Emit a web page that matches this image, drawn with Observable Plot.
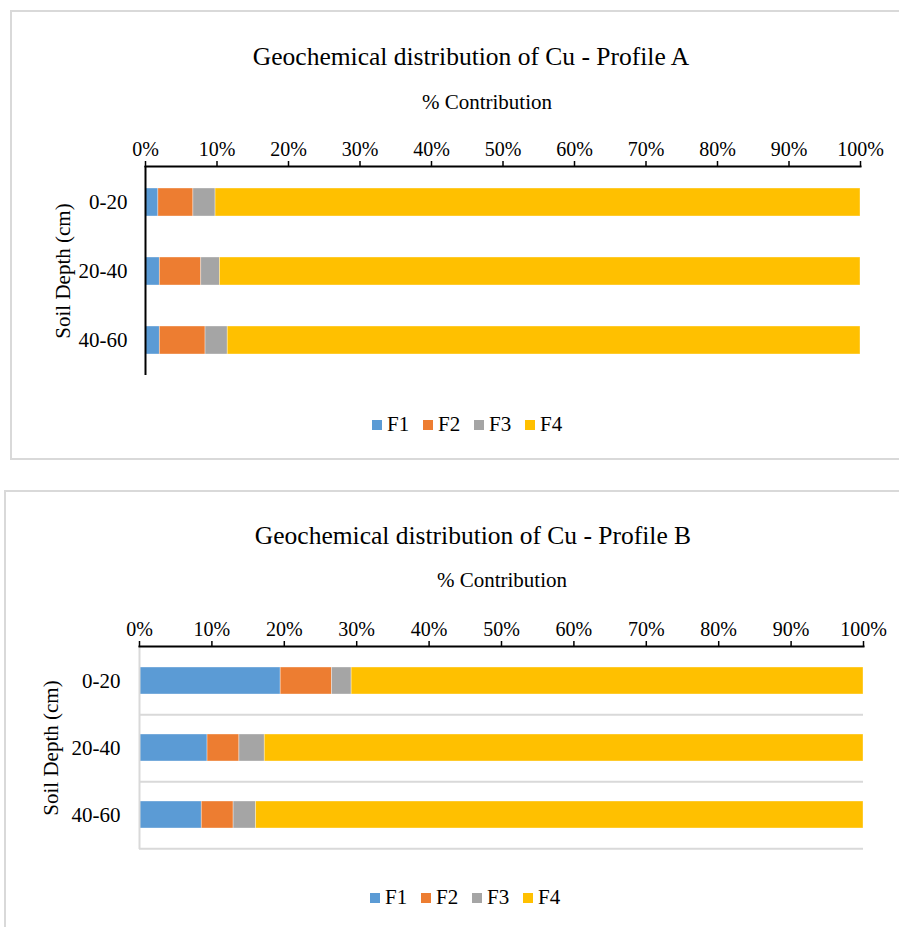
<!DOCTYPE html>
<html><head><meta charset="utf-8">
<script src="https://cdn.jsdelivr.net/npm/d3@7"></script>
<script src="https://cdn.jsdelivr.net/npm/@observablehq/plot@0.6"></script>
<style>
body{margin:0;background:#fff;width:899px;height:927px;overflow:hidden;position:relative;font-family:"Liberation Serif","Times New Roman",serif;color:#000}
svg, svg text{font-family:"Liberation Serif","Times New Roman",serif !important}
.box{position:absolute;border:2px solid #d9d9d9;box-sizing:border-box}
.t{position:absolute;white-space:nowrap;transform:translate(-50%,-50%);line-height:1.15}
.plotwrap{position:absolute;left:0}
.legend{position:absolute;display:flex;align-items:center;font-size:21px;line-height:1}
.legend .item{display:flex;align-items:center;width:51px}
.legend .sw{width:10px;height:10px;margin-right:5px}
</style></head><body>
<script>
// ---- data ----
const depths = ["0-20", "20-40", "40-60"];
const fractions = ["F1", "F2", "F3", "F4"];
const colors = ["#5B9BD5", "#ED7D31", "#A5A5A5", "#FFC000"];
const xTicks = [0, 10, 20, 30, 40, 50, 60, 70, 80, 90, 100];

const profileA_F1 = [1.8, 2.0, 2.0];
const profileA_F2 = [4.9, 5.8, 6.4];
const profileA_F3 = [3.1, 2.6, 3.1];
const profileA_F4 = [90.2, 89.6, 88.5];

const profileB_F1 = [19.5, 9.4, 8.6];
const profileB_F2 = [7.1, 4.4, 4.4];
const profileB_F3 = [2.7, 3.5, 3.1];
const profileB_F4 = [70.7, 82.7, 83.9];

const titleA = "Geochemical distribution of Cu - Profile A";
const titleB = "Geochemical distribution of Cu - Profile B";
const xLabel = "% Contribution";
const yLabel = "Soil Depth (cm)";

function addText(txt, x, y, size) {
  const d = document.createElement("div");
  d.className = "t";
  d.textContent = txt;
  d.style.left = x + "px";
  d.style.top = y + "px";
  d.style.fontSize = size + "px";
  document.body.appendChild(d);
}
function addBox(l, t, w, h) {
  const d = document.createElement("div");
  d.className = "box";
  Object.assign(d.style, {left: l + "px", top: t + "px", width: w + "px", height: h + "px"});
  document.body.appendChild(d);
}
function addLegend(l, t) {
  const lg = document.createElement("div");
  lg.className = "legend";
  lg.style.left = l + "px";
  lg.style.top = t + "px";
  fractions.forEach((f, i) => {
    const it = document.createElement("div");
    it.className = "item";
    const sw = document.createElement("span");
    sw.className = "sw";
    sw.style.background = colors[i];
    const tx = document.createElement("span");
    tx.textContent = f;
    it.appendChild(sw); it.appendChild(tx);
    lg.appendChild(it);
  });
  document.body.appendChild(lg);
}

function drawChart(cfg) {
  const rows = [];
  depths.forEach((d, i) => cfg.series.forEach((vals, j) =>
    rows.push({depth: d, fraction: fractions[j], value: vals[i]})));
  const step = (cfg.h - cfg.mt - cfg.mb) / depths.length;
  const plot = Plot.plot({
    width: 899, height: cfg.h,
    marginTop: cfg.mt, marginBottom: cfg.mb, marginLeft: cfg.ml, marginRight: cfg.mr,
    style: {fontFamily: "Liberation Serif, Times New Roman, serif", fontSize: "20px", color: "#000", background: "transparent", overflow: "visible"},
    x: {domain: [0, 100], axis: null},
    y: {domain: depths, paddingInner: 0.6, paddingOuter: 0.3, axis: null},
    color: {domain: fractions, range: colors},
    marks: [
      cfg.grid ? Plot.ruleY(depths, {y: d => d, dy: step / 2, stroke: "#d9d9d9", strokeWidth: 2}) : null,
      Plot.barX(rows, Plot.stackX({x: "value", y: "depth", fill: "fraction", stroke: "white", strokeOpacity: 0.5, strokeWidth: 0.7})),
      Plot.ruleX([0], {stroke: cfg.yLine, strokeWidth: 2}),
      Plot.axisX(xTicks, {anchor: "top", tickSize: 6, tickPadding: 5, tickFormat: d => d + "%", label: null, fontSize: 20, strokeWidth: 1.5}),
      Plot.frame({anchor: "top", stroke: "#000", strokeWidth: 2}),
      Plot.axisY({anchor: "left", tickSize: 0, tickPadding: cfg.tp, label: yLabel, labelAnchor: "center", labelOffset: cfg.lo, fontSize: 21})
    ]
  });
  const w = document.createElement("div");
  w.className = "plotwrap";
  w.style.top = cfg.top + "px";
  w.appendChild(plot);
  document.body.appendChild(w);
}

// ---- chart A ----
addBox(10, 10, 900, 450);
addText(titleA, 471, 57, 25.5);
addText(xLabel, 487, 102, 21);
drawChart({series: [profileA_F1, profileA_F2, profileA_F3, profileA_F4],
  top: 85, h: 300, mt: 81, mb: 10, ml: 145, mr: 39, tp: 18, lo: 90, grid: false, yLine: "#000"});
addLegend(372, 414);

// ---- chart B ----
addBox(4, 490, 910, 460);
addText(titleB, 473, 536, 25.5);
addText(xLabel, 502, 580, 21);
drawChart({series: [profileB_F1, profileB_F2, profileB_F3, profileB_F4],
  top: 560, h: 300, mt: 86, mb: 11, ml: 139, mr: 36, tp: 19, lo: 96, grid: true, yLine: "#d9d9d9"});
addLegend(370, 887);
</script>
</body></html>
